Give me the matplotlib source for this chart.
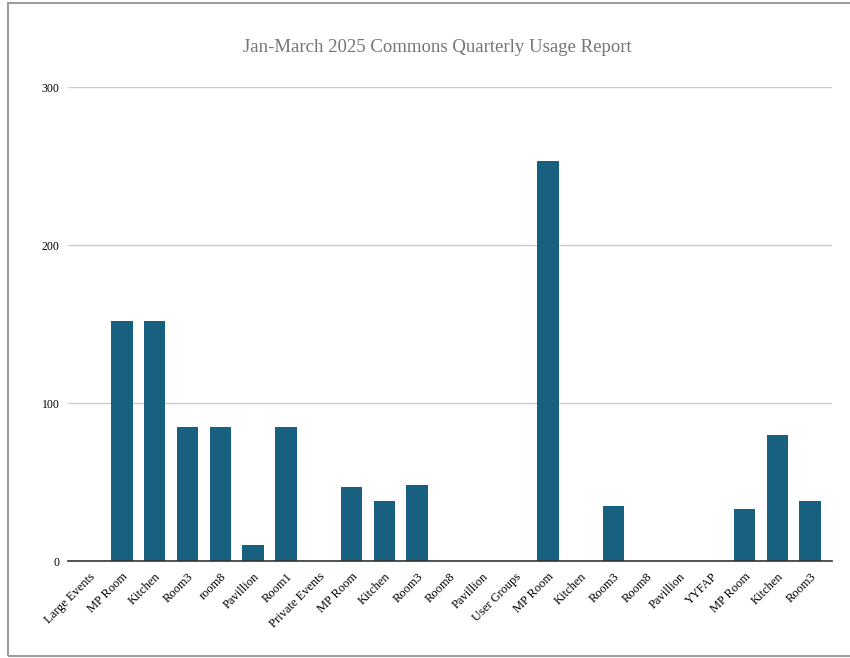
import matplotlib.pyplot as plt
from matplotlib.patches import Rectangle

# category labels along the x axis (in order) and usage counts
labels = ["Large Events", "MP Room", "Kitchen", "Room3", "room8", "Pavillion", "Room1",
          "Private Events", "MP Room", "Kitchen", "Room3", "Room8", "Pavillion",
          "User Groups", "MP Room", "Kitchen", "Room3", "Room8", "Pavillion",
          "YYFAP", "MP Room", "Kitchen", "Room3"]
values = [0, 152, 152, 85, 85, 10, 85,
          0, 47, 38, 48, 0, 0,
          0, 253, 0, 35, 0, 0,
          0, 33, 80, 38]
yticks = [0, 100, 200, 300]

plt.rcParams['font.family'] = ['Liberation Serif', 'DejaVu Serif']

fig = plt.figure(figsize=(8.5, 6.58), dpi=100)
ax = fig.add_axes([68 / 850, 1 - 561 / 658, (832 - 68) / 850, (561 - 87) / 658])

x = list(range(len(labels)))
ax.bar(x, values, width=0.65, color='#17607f', zorder=3)

ax.set_xlim(-0.65, len(labels) - 1 + 0.67)
ax.set_ylim(0, 300)
ax.set_yticks(yticks)
ax.set_yticklabels([str(t) for t in yticks], fontsize=8.5)
ax.set_xticks(x)
ax.set_xticklabels(labels, rotation=45, ha='right', rotation_mode='anchor', fontsize=9)
ax.tick_params(axis='both', length=0)
ax.tick_params(axis='y', pad=6)
ax.tick_params(axis='x', pad=7)

ax.grid(axis='y', color='#cccccc', linewidth=1, zorder=0)
for side in ['top', 'right', 'left']:
    ax.spines[side].set_visible(False)
ax.spines['bottom'].set_color('#333333')
ax.spines['bottom'].set_linewidth(1.2)
ax.spines['bottom'].set_zorder(4)

fig.text(437 / 850, 1 - 48 / 658, "Jan-March 2025 Commons Quarterly Usage Report",
         ha='center', va='center', fontsize=13.5, color='#757575')

# outer frame
fig.patches.append(Rectangle((8 / 850, 1 - 656 / 658), 1.1, 653 / 658,
                             transform=fig.transFigure, fill=False,
                             edgecolor='#9e9e9e', linewidth=1.5))

fig.savefig('out.png', dpi=100)
